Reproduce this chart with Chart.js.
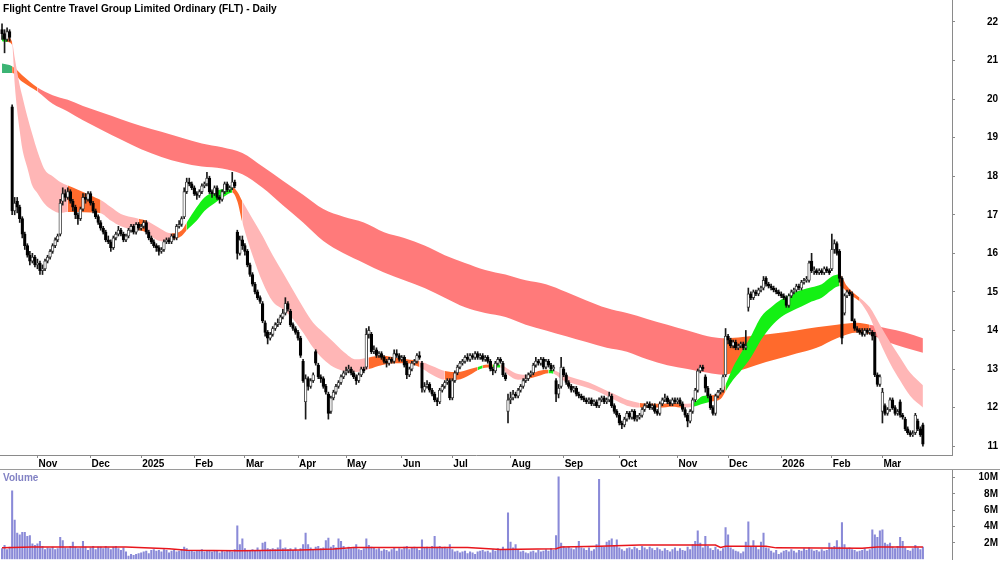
<!DOCTYPE html>
<html>
<head>
<meta charset="utf-8">
<title>Flight Centre Travel Group Limited Ordinary (FLT) - Daily</title>
<script src="https://cdn.jsdelivr.net/npm/chart.js@4.4.1/dist/chart.umd.min.js"></script>
<style>
  html, body { margin: 0; padding: 0; background: #fff; }
  #wrap { position: relative; width: 1000px; height: 562px; overflow: hidden; font-family: 'Liberation Sans', Arial, sans-serif; }
  #priceBox { position: absolute; left: 0; top: 0; width: 1000px; height: 470px; }
  #volBox { position: absolute; left: 0; top: 470px; width: 1000px; height: 92px; }
  #divider { position: absolute; left: 0; top: 469px; width: 1000px; height: 1px; background: #9a9a9a; }
  #title { position: absolute; left: 3px; top: 2px; font-weight: bold; font-size: 10.2px; line-height: 14px; color: #000; }
  #volLabel { position: absolute; left: 3px; top: 471px; font-weight: bold; font-size: 10px; line-height: 14px; color: #8282c4; }
</style>
</head>
<body>
<div id="wrap">
  <div id="priceBox"><canvas id="priceChart" width="1000" height="470"></canvas></div>
  <div id="divider"></div>
  <div id="volBox"><canvas id="volChart" width="1000" height="92"></canvas></div>
  <div id="title">Flight Centre Travel Group Limited Ordinary (FLT) - Daily</div>
  <div id="volLabel">Volume</div>
</div>
<script>
// Trading calendar (ASX): weekdays between these dates, minus public holidays
const firstDay = '2024-10-14';
const lastDay = '2026-03-24';
const holidays = ['2024-12-25', '2024-12-26', '2025-01-01', '2025-01-27', '2025-04-18', '2025-04-21',
  '2025-04-25', '2025-06-09', '2025-12-25', '2025-12-26', '2026-01-01', '2026-01-26'];
const monthNames = ['Jan', 'Feb', 'Mar', 'Apr', 'May', 'Jun', 'Jul', 'Aug', 'Sep', 'Oct', 'Nov', 'Dec'];

// Daily prices (A$)
const opens = [
  21.80, 21.70, 21.55, 21.75, 19.80, 17.10, 17.35, 17.20, 16.90, 16.50,
  16.20, 15.95, 15.80, 15.90, 15.70, 15.75, 15.55, 15.60, 15.80, 15.90,
  16.05, 16.20, 16.35, 16.50, 17.35, 17.55, 17.45, 17.60, 17.35, 17.20,
  17.00, 16.90, 17.15, 17.45, 17.40, 17.55, 17.30, 17.10, 16.95, 16.80,
  16.65, 16.55, 16.35, 16.30, 16.15, 16.40, 16.50, 16.60, 16.50, 16.35,
  16.45, 16.60, 16.70, 16.55, 16.75, 16.65, 16.70, 16.80, 16.55, 16.40,
  16.30, 16.20, 16.15, 16.05, 16.10, 16.30, 16.35, 16.30, 16.45, 16.40,
  16.70, 16.75, 16.95, 17.60, 17.85, 17.80, 17.70, 17.55, 17.50, 17.60,
  17.75, 17.80, 17.95, 17.60, 17.55, 17.70, 17.45, 17.40, 17.60, 17.80,
  17.65, 17.70, 17.85, 16.55, 16.00, 16.35, 16.20, 16.05, 15.70, 15.45,
  15.20, 15.00, 14.85, 14.70, 14.20, 13.95, 13.80, 13.90, 14.05, 14.15,
  14.20, 14.35, 14.45, 14.70, 14.50, 14.15, 14.05, 13.95, 13.80, 13.20,
  12.15, 12.75, 12.55, 12.70, 13.45, 13.10, 12.80, 12.75, 12.55, 12.35,
  11.90, 12.25, 12.40, 12.55, 12.65, 12.80, 12.90, 12.95, 13.00, 12.90,
  12.80, 12.70, 12.85, 13.00, 13.05, 13.90, 13.90, 13.45, 13.50, 13.35,
  13.40, 13.30, 13.20, 13.15, 13.25, 13.20, 13.40, 13.35, 13.25, 13.30,
  13.15, 12.85, 13.00, 13.15, 13.20, 13.35, 13.15, 12.45, 12.55, 12.60,
  12.45, 12.35, 12.20, 12.15, 12.45, 12.55, 12.65, 12.70, 12.25, 12.70,
  12.90, 13.05, 13.15, 13.20, 13.30, 13.25, 13.35, 13.30, 13.40, 13.30,
  13.35, 13.25, 13.30, 13.20, 13.00, 12.95, 13.15, 13.25, 13.15, 12.85,
  11.90, 12.20, 12.25, 12.35, 12.30, 12.45, 12.55, 12.70, 12.75, 12.85,
  12.90, 13.10, 13.20, 13.15, 13.25, 13.05, 13.20, 13.10, 13.00, 12.70,
  12.35, 12.55, 13.00, 12.85, 12.65, 12.55, 12.45, 12.50, 12.35, 12.30,
  12.25, 12.20, 12.15, 12.20, 12.10, 12.15, 12.05, 12.20, 12.25, 12.15,
  12.20, 12.30, 12.05, 11.90, 11.80, 11.60, 11.55, 11.70, 11.85, 11.75,
  11.90, 11.70, 11.75, 11.80, 11.95, 12.05, 12.10, 12.00, 12.05, 11.90,
  11.85, 12.10, 12.20, 12.25, 12.15, 12.10, 12.20, 12.15, 12.20, 12.10,
  11.95, 11.80, 11.65, 11.90, 12.20, 12.45, 12.95, 13.05, 12.80, 12.50,
  12.30, 12.00, 11.85, 12.30, 12.40, 12.45, 12.85, 13.85, 13.75, 13.60,
  13.70, 13.55, 13.60, 13.65, 13.55, 14.60, 14.95, 14.85, 15.00, 14.95,
  15.05, 15.10, 15.35, 15.20, 15.15, 15.10, 15.05, 15.00, 14.95, 14.90,
  14.85, 14.65, 14.90, 15.00, 15.05, 15.15, 15.10, 15.25, 15.30, 15.30,
  15.80, 15.55, 15.55, 15.50, 15.55, 15.50, 15.60, 15.55, 15.60, 16.10,
  16.25, 16.05, 15.35, 14.45, 14.90, 15.00, 14.95, 14.25, 14.05, 14.00,
  13.95, 13.90, 14.00, 13.95, 13.95, 13.85, 12.85, 12.60, 11.90, 12.05,
  11.85, 11.95, 12.20, 12.00, 11.85, 12.15, 11.80, 11.70, 11.45, 11.35,
  11.30, 11.35, 11.65, 11.45, 11.55
];
const highs = [
  21.95, 21.80, 21.85, 21.80, 19.85, 17.45, 17.45, 17.25, 16.95, 16.55,
  16.25, 16.05, 16.00, 15.95, 15.85, 15.80, 15.70, 15.85, 15.95, 16.10,
  16.25, 16.40, 16.50, 17.40, 17.70, 17.65, 17.70, 17.65, 17.40, 17.25,
  17.05, 17.20, 17.55, 17.55, 17.60, 17.60, 17.35, 17.15, 17.00, 16.85,
  16.70, 16.60, 16.45, 16.35, 16.45, 16.55, 16.70, 16.65, 16.55, 16.50,
  16.65, 16.75, 16.75, 16.80, 16.80, 16.75, 16.85, 16.85, 16.60, 16.45,
  16.35, 16.25, 16.20, 16.15, 16.35, 16.40, 16.40, 16.50, 16.50, 16.75,
  16.85, 16.95, 17.70, 17.95, 17.95, 17.85, 17.75, 17.60, 17.65, 17.80,
  17.85, 18.10, 18.00, 17.65, 17.75, 17.75, 17.50, 17.65, 17.85, 17.85,
  17.75, 18.10, 17.90, 16.60, 16.45, 16.45, 16.25, 16.10, 15.75, 15.50,
  15.25, 15.05, 14.90, 14.75, 14.25, 14.00, 13.95, 14.10, 14.20, 14.30,
  14.40, 14.55, 14.85, 14.75, 14.55, 14.20, 14.10, 14.00, 13.85, 13.25,
  12.85, 12.80, 12.75, 12.90, 13.50, 13.15, 12.85, 12.80, 12.60, 12.40,
  12.30, 12.45, 12.60, 12.70, 12.85, 12.95, 13.05, 13.10, 13.05, 12.95,
  12.85, 12.90, 13.05, 13.05, 14.05, 14.10, 13.95, 13.60, 13.55, 13.45,
  13.45, 13.35, 13.25, 13.30, 13.30, 13.50, 13.50, 13.40, 13.35, 13.35,
  13.20, 13.05, 13.20, 13.25, 13.40, 13.45, 13.20, 12.65, 12.70, 12.65,
  12.50, 12.40, 12.25, 12.50, 12.60, 12.70, 12.75, 12.75, 12.75, 12.95,
  13.10, 13.20, 13.25, 13.35, 13.40, 13.40, 13.40, 13.45, 13.45, 13.40,
  13.40, 13.35, 13.35, 13.25, 13.05, 13.20, 13.30, 13.30, 13.20, 12.90,
  12.35, 12.40, 12.45, 12.40, 12.50, 12.60, 12.75, 12.85, 12.90, 12.95,
  13.15, 13.30, 13.25, 13.30, 13.30, 13.25, 13.25, 13.15, 13.10, 12.75,
  12.60, 13.30, 13.05, 12.90, 12.70, 12.60, 12.55, 12.55, 12.40, 12.35,
  12.30, 12.25, 12.25, 12.25, 12.20, 12.20, 12.25, 12.30, 12.30, 12.25,
  12.40, 12.35, 12.10, 11.95, 11.85, 11.65, 11.75, 11.90, 11.90, 11.95,
  11.95, 11.80, 11.85, 12.00, 12.10, 12.15, 12.15, 12.10, 12.10, 11.95,
  12.15, 12.25, 12.35, 12.30, 12.20, 12.25, 12.25, 12.25, 12.25, 12.15,
  12.00, 11.85, 11.95, 12.25, 12.50, 13.00, 13.10, 13.10, 12.85, 12.55,
  12.35, 12.05, 12.35, 12.45, 12.50, 12.85, 14.05, 13.90, 13.80, 13.75,
  13.75, 13.65, 13.70, 13.70, 14.00, 15.10, 15.00, 15.05, 15.05, 15.10,
  15.15, 15.40, 15.40, 15.25, 15.20, 15.15, 15.10, 15.05, 15.00, 14.95,
  14.90, 14.95, 15.05, 15.10, 15.20, 15.20, 15.30, 15.35, 15.40, 15.80,
  16.00, 15.65, 15.60, 15.60, 15.60, 15.65, 15.65, 15.60, 16.50, 16.35,
  16.30, 16.10, 15.40, 14.95, 15.05, 15.05, 15.00, 14.30, 14.10, 14.05,
  14.05, 14.05, 14.05, 14.05, 14.00, 13.95, 12.90, 12.85, 12.50, 12.10,
  12.00, 12.25, 12.25, 12.05, 11.95, 12.20, 11.85, 11.75, 11.50, 11.40,
  11.40, 11.85, 11.70, 11.50, 11.60
];
const lows = [
  21.55, 21.20, 21.50, 21.50, 17.00, 17.00, 17.05, 16.80, 16.40, 16.10,
  15.90, 15.70, 15.75, 15.65, 15.60, 15.45, 15.45, 15.55, 15.75, 15.85,
  16.00, 16.15, 16.30, 16.45, 17.25, 17.35, 17.40, 17.30, 17.10, 16.90,
  16.75, 16.85, 17.10, 17.30, 17.35, 17.25, 17.05, 16.90, 16.75, 16.60,
  16.50, 16.30, 16.25, 16.05, 16.10, 16.35, 16.45, 16.45, 16.30, 16.30,
  16.40, 16.55, 16.50, 16.50, 16.60, 16.60, 16.65, 16.50, 16.35, 16.25,
  16.15, 16.05, 15.95, 16.00, 16.05, 16.25, 16.25, 16.25, 16.35, 16.35,
  16.65, 16.70, 16.90, 17.55, 17.75, 17.65, 17.50, 17.40, 17.45, 17.55,
  17.70, 17.75, 17.55, 17.45, 17.50, 17.40, 17.30, 17.35, 17.55, 17.60,
  17.60, 17.65, 17.70, 15.85, 15.95, 16.10, 15.95, 15.65, 15.40, 15.15,
  14.95, 14.80, 14.70, 14.20, 13.85, 13.65, 13.75, 13.85, 14.00, 14.10,
  14.15, 14.30, 14.40, 14.50, 14.10, 14.00, 13.90, 13.75, 13.30, 12.65,
  11.70, 12.45, 12.50, 12.65, 13.10, 12.75, 12.65, 12.50, 12.35, 11.70,
  11.85, 12.20, 12.35, 12.50, 12.60, 12.75, 12.85, 12.90, 12.85, 12.75,
  12.60, 12.65, 12.80, 12.90, 13.00, 13.80, 13.40, 13.40, 13.30, 13.30,
  13.25, 13.15, 13.05, 13.10, 13.15, 13.15, 13.30, 13.20, 13.20, 13.05,
  12.75, 12.80, 12.95, 13.10, 13.15, 13.25, 12.40, 12.40, 12.50, 12.40,
  12.30, 12.15, 12.05, 12.10, 12.40, 12.50, 12.60, 12.20, 12.20, 12.65,
  12.85, 13.00, 13.10, 13.15, 13.20, 13.20, 13.25, 13.25, 13.25, 13.25,
  13.20, 13.20, 13.15, 12.95, 12.85, 12.90, 13.10, 13.15, 12.80, 12.70,
  11.60, 12.10, 12.20, 12.25, 12.25, 12.40, 12.50, 12.65, 12.70, 12.80,
  12.85, 13.05, 13.10, 13.10, 13.00, 13.00, 13.05, 12.95, 12.95, 12.15,
  12.25, 12.50, 12.80, 12.60, 12.50, 12.40, 12.40, 12.30, 12.25, 12.20,
  12.15, 12.10, 12.10, 12.05, 12.05, 12.00, 12.00, 12.15, 12.10, 12.10,
  12.15, 12.00, 11.85, 11.75, 11.55, 11.45, 11.50, 11.65, 11.70, 11.70,
  11.65, 11.65, 11.70, 11.75, 11.90, 12.00, 11.95, 11.95, 11.85, 11.80,
  11.80, 12.05, 12.15, 12.10, 12.05, 12.05, 12.10, 12.10, 12.05, 11.90,
  11.75, 11.50, 11.60, 11.85, 12.15, 12.40, 12.90, 12.95, 12.40, 12.25,
  11.95, 11.80, 11.80, 12.25, 12.35, 12.40, 12.80, 13.65, 13.55, 13.55,
  13.50, 13.50, 13.55, 13.50, 13.50, 14.50, 14.80, 14.80, 14.90, 14.90,
  15.00, 15.05, 15.15, 15.10, 15.05, 15.00, 14.95, 14.90, 14.85, 14.80,
  14.60, 14.60, 14.85, 14.95, 15.00, 15.05, 15.05, 15.20, 15.25, 15.25,
  15.50, 15.45, 15.45, 15.45, 15.45, 15.45, 15.50, 15.45, 15.55, 16.00,
  15.95, 15.25, 13.65, 14.40, 14.85, 14.90, 14.25, 14.00, 13.95, 13.90,
  13.85, 13.85, 13.90, 13.90, 13.75, 12.80, 12.55, 12.55, 11.60, 11.80,
  11.80, 11.90, 11.95, 11.80, 11.80, 11.75, 11.70, 11.40, 11.30, 11.25,
  11.25, 11.30, 11.40, 11.25, 11.00
];
const closes = [
  21.70, 21.55, 21.75, 21.60, 17.10, 17.30, 17.20, 16.90, 16.50, 16.20,
  15.95, 15.80, 15.90, 15.70, 15.75, 15.55, 15.60, 15.80, 15.90, 16.05,
  16.20, 16.35, 16.45, 17.30, 17.55, 17.45, 17.60, 17.35, 17.20, 17.00,
  16.90, 17.15, 17.45, 17.40, 17.55, 17.30, 17.10, 16.95, 16.80, 16.65,
  16.55, 16.35, 16.30, 16.15, 16.40, 16.50, 16.60, 16.50, 16.35, 16.45,
  16.60, 16.70, 16.55, 16.75, 16.65, 16.70, 16.80, 16.55, 16.40, 16.30,
  16.20, 16.15, 16.05, 16.10, 16.30, 16.35, 16.30, 16.45, 16.40, 16.70,
  16.75, 16.90, 17.60, 17.85, 17.80, 17.70, 17.55, 17.50, 17.60, 17.75,
  17.80, 17.95, 17.60, 17.55, 17.70, 17.45, 17.40, 17.60, 17.80, 17.65,
  17.70, 17.85, 17.75, 16.00, 16.35, 16.20, 16.05, 15.70, 15.45, 15.20,
  15.00, 14.85, 14.75, 14.25, 13.95, 13.80, 13.90, 14.05, 14.15, 14.20,
  14.35, 14.45, 14.70, 14.55, 14.15, 14.05, 13.95, 13.80, 13.35, 12.70,
  12.75, 12.55, 12.70, 12.85, 13.15, 12.80, 12.75, 12.55, 12.40, 11.85,
  12.25, 12.40, 12.55, 12.65, 12.80, 12.90, 12.95, 13.00, 12.90, 12.80,
  12.70, 12.85, 13.00, 12.95, 13.90, 14.00, 13.45, 13.50, 13.35, 13.40,
  13.30, 13.20, 13.15, 13.25, 13.20, 13.40, 13.35, 13.25, 13.30, 13.10,
  12.85, 13.00, 13.15, 13.20, 13.35, 13.30, 12.50, 12.55, 12.60, 12.45,
  12.35, 12.20, 12.15, 12.45, 12.55, 12.65, 12.70, 12.25, 12.70, 12.90,
  13.05, 13.15, 13.20, 13.30, 13.25, 13.35, 13.30, 13.40, 13.30, 13.35,
  13.25, 13.30, 13.20, 13.00, 12.95, 13.15, 13.25, 13.20, 12.85, 12.75,
  12.20, 12.25, 12.35, 12.30, 12.45, 12.55, 12.70, 12.75, 12.85, 12.90,
  13.10, 13.20, 13.15, 13.25, 13.05, 13.20, 13.10, 13.00, 13.05, 12.35,
  12.50, 13.05, 12.85, 12.65, 12.55, 12.45, 12.50, 12.35, 12.30, 12.25,
  12.20, 12.15, 12.20, 12.10, 12.15, 12.05, 12.20, 12.25, 12.15, 12.20,
  12.30, 12.05, 11.90, 11.80, 11.60, 11.55, 11.70, 11.85, 11.75, 11.90,
  11.70, 11.75, 11.80, 11.95, 12.05, 12.10, 12.00, 12.05, 11.90, 11.85,
  12.10, 12.20, 12.25, 12.15, 12.10, 12.20, 12.15, 12.20, 12.10, 11.95,
  11.80, 11.65, 11.90, 12.20, 12.45, 12.95, 13.05, 13.00, 12.50, 12.30,
  12.00, 11.85, 12.30, 12.40, 12.45, 12.80, 13.85, 13.75, 13.60, 13.70,
  13.55, 13.60, 13.65, 13.55, 13.60, 14.95, 14.85, 15.00, 14.95, 15.05,
  15.10, 15.30, 15.20, 15.15, 15.10, 15.05, 15.00, 14.95, 14.90, 14.85,
  14.65, 14.90, 15.00, 15.05, 15.15, 15.10, 15.25, 15.30, 15.30, 15.75,
  15.55, 15.55, 15.50, 15.55, 15.50, 15.60, 15.55, 15.50, 16.10, 16.25,
  16.00, 15.35, 13.80, 14.90, 15.00, 14.95, 14.25, 14.05, 14.00, 13.95,
  13.90, 14.00, 13.95, 14.00, 13.85, 12.85, 12.60, 12.80, 12.40, 11.85,
  11.95, 12.20, 12.00, 11.85, 11.90, 11.80, 11.75, 11.45, 11.35, 11.30,
  11.30, 11.80, 11.45, 11.30, 11.05
];

// Daily volume (millions of shares)
const volumes = [
  1.3, 1.7, 1.2, 1.5, 8.4, 4.8, 3.2, 3.0, 3.3, 3.3,
  2.8, 2.9, 1.9, 1.7, 1.9, 2.2, 1.6, 1.2, 1.4, 1.3,
  1.5, 1.2, 1.3, 2.7, 2.3, 1.4, 1.3, 1.6, 2.1, 1.5,
  1.3, 1.4, 2.2, 1.5, 1.1, 1.4, 1.6, 1.2, 1.5, 1.5,
  1.3, 1.6, 1.4, 1.2, 1.5, 1.6, 1.3, 1.1, 1.4, 0.9,
  0.4, 0.6, 0.5, 0.6, 0.7, 0.8, 0.9, 1.0, 0.7, 1.1,
  1.2, 1.0, 1.1, 0.9, 1.2, 1.1, 0.8, 1.0, 1.1, 0.9,
  1.0, 1.2, 1.5, 1.3, 1.1, 1.0, 0.9, 1.1, 1.0, 1.2,
  0.9, 1.0, 1.1, 0.9, 1.0, 1.0, 0.8, 1.0, 0.9, 1.1,
  1.0, 0.9, 1.2, 4.1, 1.8, 2.5, 1.3, 1.1, 1.0, 1.2,
  1.1, 1.4, 1.0, 2.0, 2.1, 1.3, 1.2, 1.3, 1.2, 1.4,
  2.4, 1.3, 1.4, 1.2, 1.3, 1.1, 1.4, 1.0, 1.3, 1.8,
  3.2, 1.8, 1.4, 1.2, 1.5, 1.6, 1.3, 1.4, 2.3, 2.6,
  1.5, 1.7, 1.4, 2.5, 2.2, 1.6, 1.2, 1.5, 1.3, 1.4,
  1.8, 1.2, 1.1, 1.3, 2.5, 1.7, 1.5, 1.4, 1.2, 1.3,
  1.0, 1.2, 1.1, 0.9, 1.2, 1.4, 1.0, 1.3, 1.2, 1.5,
  1.6, 1.2, 1.4, 1.5, 1.3, 1.1, 2.4, 1.4, 1.5, 1.3,
  1.6, 2.8, 1.5, 1.6, 1.4, 1.5, 1.3, 1.8, 1.2, 0.9,
  1.0, 0.8, 0.9, 1.0, 0.7, 0.9, 0.8, 0.6, 0.9, 1.0,
  1.1, 0.9, 1.0, 0.8, 1.2, 1.0, 1.3, 1.1, 1.5, 1.2,
  5.7, 2.1, 1.4, 1.8, 1.1, 0.9, 1.0, 0.8, 0.7, 0.9,
  1.0, 0.8, 1.1, 0.9, 1.0, 1.2, 1.0, 1.3, 1.1, 2.9,
  10.1, 2.0, 1.6, 1.4, 1.5, 1.3, 1.2, 1.5, 2.2, 1.4,
  1.3, 1.1, 1.4, 1.0, 1.2, 1.8, 9.8, 1.6, 1.5, 2.1,
  2.3, 2.5, 1.7, 2.4, 1.4, 1.2, 1.0, 1.3, 1.4, 1.2,
  1.5, 1.3, 1.1, 1.6, 1.4, 1.2, 1.5, 1.3, 1.1, 1.4,
  1.2, 1.0, 1.3, 1.1, 0.9, 1.2, 1.4, 1.0, 1.3, 1.1,
  1.0, 1.5, 1.2, 1.8, 2.2, 3.5, 2.0, 1.4, 2.8, 1.6,
  1.3, 1.1, 1.5, 1.2, 1.0, 1.3, 3.9, 3.0, 1.4, 1.2,
  1.0, 0.9, 0.7, 0.9, 2.1, 4.6, 1.6, 2.3, 1.5, 1.2,
  2.1, 3.2, 1.4, 1.3, 1.0, 0.8, 1.1, 0.6, 0.8, 1.0,
  1.1, 0.9, 1.2, 1.0, 0.8, 1.1, 1.0, 1.3, 1.1, 1.4,
  1.2, 1.0, 1.1, 0.9, 1.2, 1.0, 1.1, 2.0, 1.4, 1.6,
  2.3, 1.5, 4.5, 1.8, 1.3, 1.4, 1.2, 1.1, 0.9, 1.0,
  1.1, 1.3, 1.0, 1.2, 3.6, 3.0, 2.7, 3.5, 3.6, 2.0,
  1.8, 2.0, 1.5, 1.3, 1.6, 2.7, 2.2, 1.4, 1.1, 1.0,
  1.3, 1.7, 1.4, 1.2, 1.5
];
// Volume average line, read at a few days (millions)
const volAvgDays = [0, 12, 49, 66, 73, 94, 118, 131, 139, 184, 194, 197, 219, 221, 236, 252, 282, 284, 286, 302, 306, 340, 346, 364];
const volAvg = [1.40, 1.50, 1.50, 1.30, 1.10, 1.05, 1.15, 1.25, 1.45, 1.45, 1.25, 1.20, 1.30, 1.50, 1.60, 1.75, 1.75, 1.45, 1.60, 1.60, 1.40, 1.35, 1.50, 1.50];

// Short-term average ribbon (edges read at these trading days), tone: g rising, o mixed, p falling
const shortDays = [0, 2, 4, 5, 6, 7, 8, 10, 12, 14, 17, 20, 23, 26, 30, 35, 39, 43, 47, 51, 54, 57,
  61, 65, 67, 71, 73, 77, 80, 84, 88, 91, 93, 95, 99, 103, 107, 111, 115, 119, 123, 127,
  131, 135, 140, 145, 150, 155, 160, 165, 170, 175, 180, 185, 188, 190, 194, 197, 200, 204, 208, 212,
  216, 218, 222, 227, 232, 237, 242, 247, 252, 256, 260, 265, 269, 273, 277, 280, 284, 286, 289, 292,
  296, 300, 304, 308, 312, 316, 320, 324, 328, 331, 334, 337, 339, 343, 347, 351, 355, 359, 364];
const shortUpper = [21.65, 21.62, 21.48, 21.08, 20.70, 20.35, 20.08, 19.55, 19.08, 18.65, 18.16, 18.00, 17.85, 17.76, 17.65, 17.50, 17.38, 17.20, 17.02, 16.94, 16.90, 16.85,
  16.70, 16.55, 16.52, 16.60, 16.80, 17.20, 17.45, 17.60, 17.68, 17.72, 17.60, 17.35, 16.90, 16.45, 15.95, 15.50, 15.05, 14.60, 14.20, 13.95,
  13.70, 13.45, 13.25, 13.30, 13.35, 13.30, 13.25, 13.20, 13.08, 12.95, 12.92, 13.00, 13.05, 13.10, 13.12, 13.12, 13.00, 12.87, 12.85, 12.95,
  12.98, 12.97, 12.85, 12.75, 12.65, 12.50, 12.35, 12.20, 12.12, 12.10, 12.10, 12.12, 12.10, 12.12, 12.30, 12.32, 12.38, 12.60, 13.05, 13.40,
  13.85, 14.35, 14.60, 14.80, 14.95, 15.05, 15.12, 15.20, 15.40, 15.45, 15.15, 14.95, 14.85, 14.60, 14.15, 13.70, 13.30, 12.90, 12.58];
const shortLower = [21.50, 21.48, 21.40, 20.40, 19.70, 19.17, 18.72, 18.22, 17.75, 17.56, 17.27, 17.12, 17.05, 17.07, 17.07, 17.06, 17.04, 16.85, 16.70, 16.62, 16.60, 16.55,
  16.35, 16.30, 16.35, 16.45, 16.60, 16.85, 17.10, 17.30, 17.48, 17.58, 17.35, 16.80, 15.95, 15.25, 14.75, 14.55, 14.30, 13.95, 13.55, 13.25,
  13.05, 12.95, 12.92, 13.00, 13.10, 13.15, 13.15, 13.05, 12.85, 12.72, 12.72, 12.85, 12.97, 13.02, 13.04, 13.04, 12.85, 12.72, 12.75, 12.82,
  12.89, 12.88, 12.70, 12.60, 12.50, 12.37, 12.20, 12.05, 12.00, 12.00, 12.00, 12.02, 12.00, 12.02, 12.10, 12.15, 12.22, 12.42, 12.72, 12.95,
  13.30, 13.75, 14.10, 14.35, 14.50, 14.62, 14.75, 14.85, 15.05, 15.15, 15.00, 14.85, 14.75, 14.35, 13.70, 13.15, 12.70, 12.30, 12.00];
const shortTone = ['g', 'o', 'p', 'p', 'p', 'p', 'p', 'p', 'p', 'p', 'p', 'p', 'p', 'o', 'o', 'o', 'p', 'p', 'p', 'p', 'o', 'p',
  'p', 'p', 'o', 'o', 'g', 'g', 'g', 'g', 'g', 'o', 'o', 'p', 'p', 'p', 'p', 'p', 'p', 'p', 'p', 'p',
  'p', 'p', 'p', 'o', 'o', 'o', 'o', 'p', 'p', 'o', 'o', 'o', 'g', 'o', 'g', 'p', 'p', 'p', 'o', 'o',
  'g', 'p', 'p', 'p', 'p', 'p', 'p', 'p', 'o', 'o', 'o', 'o', 'p', 'g', 'g', 'o', 'o', 'g', 'g', 'g',
  'g', 'g', 'g', 'g', 'g', 'g', 'g', 'g', 'g', 'o', 'o', 'o', 'p', 'p', 'p', 'p', 'p', 'p', 'p'];

// Long-term average ribbon, tone: G rising, o mixed, r falling
const longDays = [0, 4, 8, 14, 20, 26, 32, 40, 47, 55, 63, 71, 79, 87, 95, 103, 111, 119, 127, 135,
  143, 151, 159, 167, 175, 183, 191, 199, 207, 215, 223, 231, 239, 247, 255, 263, 271, 279, 285, 291,
  298, 306, 314, 322, 330, 338, 343, 350, 357, 364];
const longUpper = [20.92, 20.85, 20.62, 20.30, 20.10, 19.98, 19.82, 19.64, 19.48, 19.30, 19.15, 19.00, 18.85, 18.75, 18.60, 18.25, 17.88, 17.52, 17.15, 16.95,
  16.80, 16.55, 16.40, 16.20, 15.95, 15.75, 15.57, 15.45, 15.30, 15.20, 15.00, 14.78, 14.58, 14.45, 14.30, 14.15, 14.00, 13.85, 13.80, 13.82,
  13.87, 13.93, 14.00, 14.08, 14.15, 14.20, 14.15, 14.05, 13.95, 13.80];
const longLower = [20.68, 20.68, 20.45, 20.20, 19.88, 19.68, 19.45, 19.18, 18.95, 18.70, 18.50, 18.35, 18.25, 18.20, 18.05, 17.70, 17.25, 16.80, 16.32, 16.00,
  15.75, 15.50, 15.30, 15.10, 14.85, 14.60, 14.45, 14.35, 14.15, 14.00, 13.85, 13.70, 13.55, 13.45, 13.25, 13.10, 13.00, 12.90, 12.85, 12.95,
  13.10, 13.25, 13.40, 13.55, 13.80, 13.95, 13.90, 13.70, 13.55, 13.42];
const longTone = ['G', 'o', 'o', 'r', 'r', 'r', 'r', 'r', 'r', 'r', 'r', 'r', 'r', 'r', 'r', 'r', 'r', 'r', 'r', 'r',
  'r', 'r', 'r', 'r', 'r', 'r', 'r', 'r', 'r', 'r', 'r', 'r', 'r', 'r', 'r', 'r', 'r', 'r', 'o', 'o',
  'o', 'o', 'o', 'o', 'o', 'o', 'r', 'r', 'r', 'r'];

// Axis tick values
const priceTicks = [11, 12, 13, 14, 15, 16, 17, 18, 19, 20, 21, 22];
const volumeTicks = [2, 4, 6, 8, 10];

const toneColors = {
  G: '#3cb474',
  g: '#14f014',
  o: '#ff6a2c',
  p: '#ffb6b6',
  r: '#ff7a7a'
};
const FONT = "'Liberation Sans', Arial, sans-serif";

/**
 * Build the list of trading days
 */
function buildTradingDays() {
  const days = [];
  let d = new Date(firstDay + 'T00:00:00Z');
  const end = new Date(lastDay + 'T00:00:00Z');
  while (d <= end) {
    const iso = d.toISOString().slice(0, 10);
    const wd = d.getUTCDay();
    if (wd !== 0 && wd !== 6 && !holidays.includes(iso)) {
      days.push(iso);
    }
    d = new Date(d.getTime() + 86400000);
  }
  return days;
}

/**
 * Month ticks: the first trading day of every month (January shows the year)
 */
function buildMonthTicks(days) {
  const ticks = [];
  for (let i = 1; i < days.length; i++) {
    if (days[i].slice(5, 7) !== days[i - 1].slice(5, 7)) {
      const m = parseInt(days[i].slice(5, 7), 10) - 1;
      ticks.push({ value: i, label: m === 0 ? days[i].slice(0, 4) : monthNames[m] });
    }
  }
  return ticks;
}

const tradingDays = buildTradingDays();
const monthTicks = buildMonthTicks(tradingDays);
const monthLabel = {};
monthTicks.forEach(t => { monthLabel[t.value] = t.label; });

function ribbon(days, upper, lower, tone, order) {
  const top = days.map((x, i) => ({ x: x, y: upper[i] }));
  const bottom = days.map((x, i) => ({ x: x, y: lower[i] }));
  return [{
    type: 'line',
    data: top,
    borderColor: 'rgba(0,0,0,0)',
    borderWidth: 1,
    pointRadius: 0,
    cubicInterpolationMode: 'monotone',
    backgroundColor: toneColors[tone[0]],
    fill: '+1',
    segment: {
      backgroundColor: ctx => toneColors[tone[ctx.p0DataIndex]]
    },
    order: order
  }, {
    type: 'line',
    data: bottom,
    borderColor: 'rgba(0,0,0,0)',
    borderWidth: 1,
    pointRadius: 0,
    cubicInterpolationMode: 'monotone',
    fill: false,
    order: order
  }];
}

const xRange = { min: -0.8, max: 375.5 };
const tickFont = { family: FONT, size: 10, weight: 'bold' };

function initPriceChart() {
  const ctx = document.getElementById('priceChart').getContext('2d');
  const wicks = highs.map((h, i) => ({ x: i, y: [lows[i], h] }));
  const bodies = opens.map((o, i) => ({ x: i, y: [o, closes[i]] }));
  const bodyColors = opens.map((o, i) => (closes[i] >= o ? '#ffffff' : '#000000'));
  const bodyBorders = opens.map((o, i) => (closes[i] >= o ? '#3a3a3a' : '#000000'));

  new Chart(ctx, {
    type: 'line',
    data: {
      datasets: [
        ...ribbon(longDays, longUpper, longLower, longTone, 5),
        ...ribbon(shortDays, shortUpper, shortLower, shortTone, 4),
        {
          type: 'bar',
          data: wicks,
          backgroundColor: '#1a1a1a',
          barThickness: 1,
          grouped: false,
          order: 2
        },
        {
          type: 'bar',
          data: bodies,
          backgroundColor: bodyColors,
          borderColor: bodyBorders,
          borderWidth: 0.9,
          borderSkipped: false,
          barThickness: 2.7,
          minBarLength: 1,
          grouped: false,
          order: 1
        }
      ]
    },
    options: {
      responsive: false,
      animation: false,
      devicePixelRatio: 1,
      events: [],
      layout: { padding: { left: 0, right: 2, top: 0, bottom: 0 } },
      plugins: { legend: { display: false }, tooltip: { enabled: false } },
      scales: {
        x: {
          type: 'linear',
          min: xRange.min,
          max: xRange.max,
          offset: false,
          grid: { offset: false, drawOnChartArea: false, drawTicks: true, tickLength: 3, color: '#8a8a8a' },
          border: { display: true, color: '#8a8a8a' },
          ticks: {
            autoSkip: false,
            maxRotation: 0,
            align: 'start',
            labelOffset: 1,
            padding: 0,
            color: '#000',
            font: tickFont,
            callback: v => monthLabel[v] || ''
          },
          afterBuildTicks: axis => { axis.ticks = monthTicks.map(t => ({ value: t.value })); },
          afterFit: axis => { axis.height = 15; }
        },
        y: {
          position: 'right',
          min: 10.77,
          max: 22.57,
          grid: { drawOnChartArea: false, drawTicks: true, tickLength: 3, color: '#8a8a8a' },
          border: { display: true, color: '#8a8a8a' },
          ticks: { crossAlign: 'far', color: '#000', font: tickFont, callback: v => String(v) },
          afterBuildTicks: axis => { axis.ticks = priceTicks.map(v => ({ value: v })); },
          afterFit: axis => { axis.width = 46; axis.paddingTop = 0; axis.paddingBottom = 0; }
        }
      }
    }
  });
}

function initVolumeChart() {
  const ctx = document.getElementById('volChart').getContext('2d');
  new Chart(ctx, {
    type: 'line',
    data: {
      datasets: [
        {
          type: 'line',
          data: volAvgDays.map((x, i) => ({ x: x, y: volAvg[i] })),
          borderColor: '#e8161c',
          borderWidth: 1.5,
          pointRadius: 0,
          fill: false,
          order: 1
        },
        {
          type: 'bar',
          data: volumes.map((v, i) => ({ x: i, y: v })),
          backgroundColor: '#8a8ad8',
          barThickness: 1.4,
          grouped: false,
          order: 2
        }
      ]
    },
    options: {
      responsive: false,
      animation: false,
      devicePixelRatio: 1,
      events: [],
      layout: { padding: { left: 0, right: 2, top: 0, bottom: 2.7 } },
      plugins: { legend: { display: false }, tooltip: { enabled: false } },
      scales: {
        x: {
          type: 'linear',
          min: xRange.min,
          max: xRange.max,
          offset: false,
          grid: { offset: false },
          display: false
        },
        y: {
          position: 'right',
          min: 0,
          max: 10.94,
          grid: { drawOnChartArea: false, drawTicks: true, tickLength: 3, color: '#8a8a8a' },
          border: { display: true, color: '#8a8a8a' },
          ticks: { crossAlign: 'far', color: '#000', font: tickFont, callback: v => v + 'M' },
          afterBuildTicks: axis => { axis.ticks = volumeTicks.map(v => ({ value: v })); },
          afterFit: axis => { axis.width = 46; axis.paddingTop = 0; axis.paddingBottom = 0; }
        }
      }
    }
  });
}

initPriceChart();
initVolumeChart();
</script>
</body>
</html>
